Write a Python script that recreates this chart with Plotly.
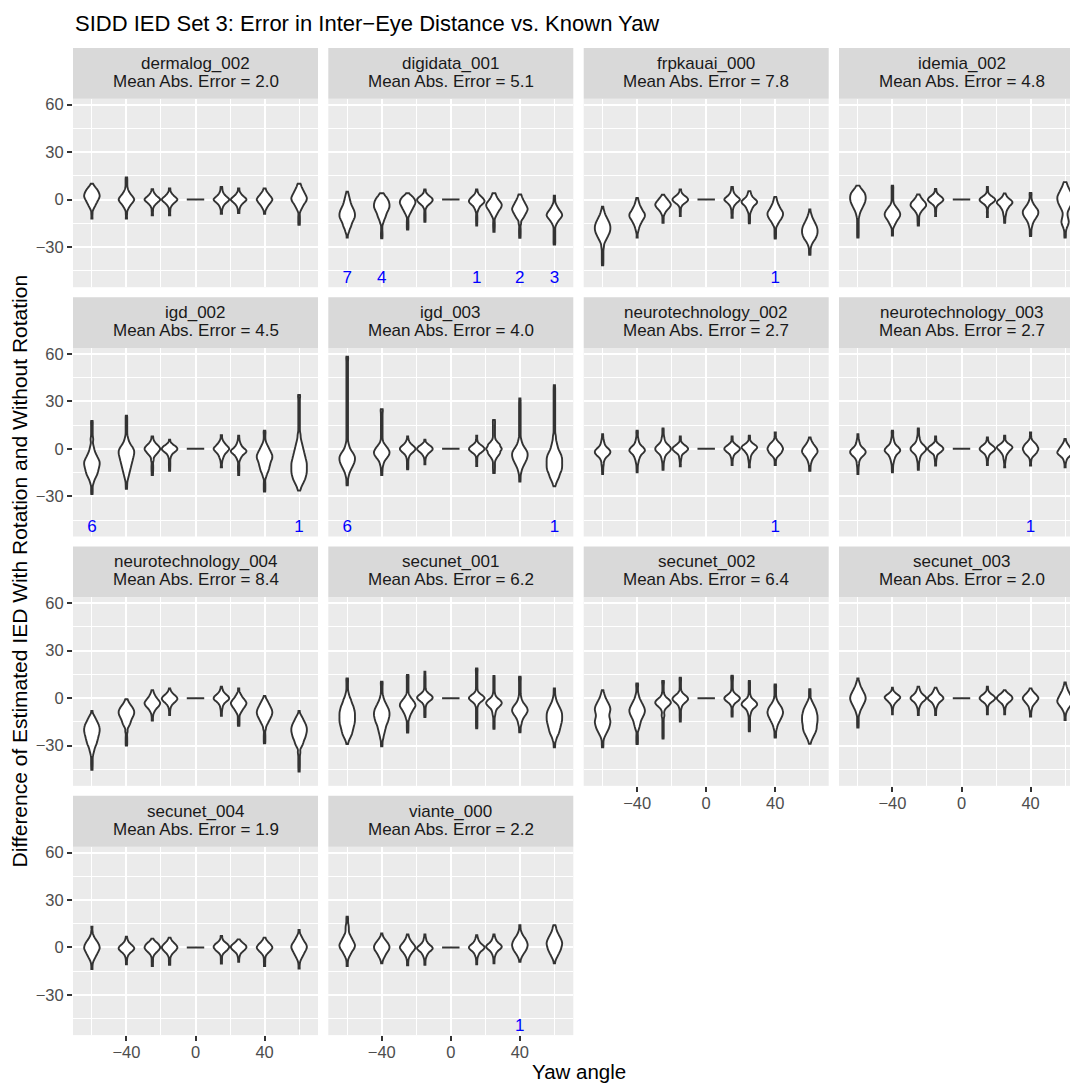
import numpy as np
import plotly.graph_objects as go

# ---------------- data ----------------
PANELS = ["dermalog_002", "digidata_001", "frpkauai_000", "idemia_002",
          "igd_002", "igd_003", "neurotechnology_002", "neurotechnology_003",
          "neurotechnology_004", "secunet_001", "secunet_002", "secunet_003",
          "secunet_004", "viante_000"]
MAE = [2.0, 5.1, 7.8, 4.8, 4.5, 4.0, 2.7, 2.7, 8.4, 6.2, 6.4, 2.0, 1.9, 2.2]
ANGLES = [-60, -40, -25, -15, 0, 15, 25, 40, 60]

# estimated distributions: (IED difference value, relative count)
dermalog_002 = {
    -60: [(-12,1),(-9,1),(-6,2),(-4,4),(-2,6),(0,8),(2,10),(4,9),(6,7),(8,4),(10,1)],
    -40: [(-12,1),(-9,1),(-6,2),(-4,4),(-2,7),(0,10),(2,7),(4,4),(6,2),(8,1),(10,1),(12,1),(14,1)],
    -25: [(-10,1),(-7,1),(-4,2),(-2,5),(0,10),(2,5),(4,2),(6.5,1)],
    -15: [(-10,1),(-7,1),(-4,2),(-2,5),(0,10),(2,5),(4,2),(7,1)],
    0: [(0,5)],
    15: [(-9,1),(-6,1),(-4,2),(-2,5),(0,10),(2,5),(4,2),(6,1),(8,1)],
    25: [(-8.5,1),(-6,1),(-4,2),(-2,5),(0,10),(2,5),(4,2),(7,1)],
    40: [(-9,1),(-6,2),(-4,4),(-2,7),(0,10),(2,7),(4,4),(6,1),(7,1)],
    60: [(-16,1),(-14,1),(-12,1),(-10,1),(-7,2),(-5,4),(-3,6),(-1,9),(1,10),(3,8),(5,6),(7,4),(9,2),(10,1)],
}
digidata_001 = {
    -60: [(-24,1),(-21,2),(-19,3),(-17,5),(-15,6),(-13,8),(-11,10),(-9,10),(-7,9),(-5,7),(-3,5),(-1,4),(1,3),(3,2),(5,1)],
    -40: [(-24.5,1),(-22.5,1),(-20.5,1),(-18,1),(-15,2),(-13,3),(-11,5),(-9,6),(-7,8),(-5,10),(-3,10),(-1,9),(1,7),(3,3),(4,1)],
    -25: [(-19,1),(-17,1),(-15,1),(-13,1),(-10,2),(-8,4),(-6,6),(-4,8),(-2,10),(0,9),(2,6),(4,1)],
    -15: [(-14,1),(-12,1),(-10,1),(-8,1),(-5,2),(-3,5),(-1.5,8),(0,10),(1.5,7),(3,3),(5,1),(6.3,1)],
    0: [(0,5)],
    15: [(-16.4,1),(-14,1),(-12,1),(-10,1),(-7,2),(-5,4),(-3,7),(-1.5,10),(0,9),(1.5,6),(3,3),(5,1),(6.3,1)],
    25: [(-20.4,1),(-18,1),(-16,1),(-14,1),(-11,2),(-9,4),(-7,6),(-5,9),(-3,10),(-1,7),(1,4),(3,2),(4,1)],
    40: [(-24.2,1),(-22,1),(-20,1),(-18,1),(-15,2),(-12,4),(-10,6),(-8,8),(-6,10),(-4,8),(-2,6),(0,4),(2,2),(3.2,1)],
    60: [(-28.4,1),(-26.5,1),(-24.5,1),(-22.5,1),(-20.5,1),(-18.5,1),(-16,2),(-14,4),(-12,7),(-10,10),(-8,8),(-6,5),(-4,3),(-2,1),(0,1),(2.5,1)],
}
frpkauai_000 = {
    -60: [(-41.6,1),(-39.5,1),(-37.5,1),(-35.5,1),(-33.5,1),(-31.5,1),(-29.5,2),(-27,3),(-25,5),(-23,7),(-21,9),(-19,10),(-17,10),(-15,9),(-13,7),(-11,5),(-9,3),(-7,2),(-4.6,1)],
    -40: [(-24,1),(-21,1),(-19,2),(-17,3),(-15,5),(-13,7),(-11,10),(-9,10),(-7,7),(-5,5),(-3,3),(-1,2),(1,1)],
    -25: [(-14.7,1),(-12,1),(-9,2),(-7,4),(-5,8),(-3,10),(-1,7),(1,4),(3,1)],
    -15: [(-10.5,1),(-7.5,1),(-5,1),(-3,3),(-1.5,7),(0,10),(1.5,7),(3,3),(5,1),(6.3,1)],
    0: [(0,5)],
    15: [(-11.5,1),(-8.5,1),(-6,1),(-4,2),(-2,5),(0,10),(2,5),(4,2),(6,1),(8,1)],
    25: [(-15,1),(-13,1),(-11,1),(-9,1),(-7,3),(-5,5),(-3,8),(-1.5,10),(0,8),(2,4),(4,2),(5.3,1)],
    40: [(-24.6,1),(-22.5,1),(-20.5,1),(-18.5,1),(-16,3),(-14,5),(-12,8),(-10,10),(-8,10),(-6,7),(-4,5),(-2,3),(0,2),(1.7,1)],
    60: [(-35,1),(-33,1),(-31,1),(-29,2),(-27,4),(-25,7),(-23,9),(-21,10),(-19,10),(-17,9),(-15,7),(-13,5),(-11,3),(-9,2),(-6.3,1)],
}
idemia_002 = {
    -60: [(-24,1),(-22,1),(-20,1),(-18,1),(-16,1),(-14,1),(-12,1),(-10,2),(-8,3),(-6,5),(-4,7),(-2,9),(0,10),(2,10),(4,9),(6,6),(8,2),(8.8,1)],
    -40: [(-22.7,1),(-20,1),(-17,2),(-15,4),(-13,6),(-11,9),(-9,10),(-7,8),(-5,5),(-3,2),(-1,1),(1,1),(3,1),(5,1),(7,1),(8.8,1)],
    -25: [(-16.4,1),(-14,1),(-12,1),(-10,1),(-8,3),(-6,6),(-4,10),(-2,9),(0,5),(2,2),(3.2,1)],
    -15: [(-10.5,1),(-7.5,1),(-5,1),(-3,3),(-1.5,7),(0,10),(1.5,7),(3,3),(5,1),(6.7,1)],
    0: [(0,5)],
    15: [(-11,1),(-8,1),(-5,1),(-3,3),(-1.5,7),(0,10),(1.5,6),(3,2),(5.5,1),(8,1)],
    25: [(-14.7,1),(-12.5,1),(-10.5,1),(-9,2),(-7,3),(-5,6),(-3,9),(-1.5,10),(0,7),(2,3),(3.8,1)],
    40: [(-23,1),(-21,1),(-19,1),(-17,2),(-15,3),(-13,5),(-11,8),(-9,10),(-7,10),(-5,7),(-3,4),(-1,2),(1,1),(3,1),(4.2,1)],
    60: [(-24,1),(-22,1),(-20,1),(-18,2),(-16,4),(-14,5),(-12,4),(-10,3),(-8,3),(-6,5),(-4,7),(-2,9),(0,10),(2,10),(4,8),(6,6),(8,4),(10,2),(11,1)],
}
igd_002 = {
    -60: [(-28.5,1),(-26.5,1),(-24.5,1),(-22,2),(-20,3),(-18,5),(-16,7),(-14,8),(-12,9),(-10,10),(-8,10),(-6,8),(-4,6),(-2,4),(0,3),(2,2),(4,1),(6,2),(8,1),(10,1),(12,1),(14,1),(16,1),(17.7,1)],
    -40: [(-25.3,1),(-23,1),(-21,1),(-19,2),(-17,3),(-15,4),(-13,5),(-11,6),(-9,7),(-7,8),(-5,9),(-3,10),(-1,10),(1,8),(3,5),(5,3),(7,2),(9,1),(11,1),(13,1),(15,1),(17,1),(19,1),(21,1)],
    -25: [(-16.5,1),(-14,1),(-12,1),(-10,1),(-7,2),(-4,4),(-2,7),(0,10),(2,7),(4,3),(6,1),(7.9,1)],
    -15: [(-13.8,1),(-11.5,1),(-9.5,1),(-7.5,1),(-5,2),(-3,3),(-1.5,7),(0,10),(1.5,7),(3,3),(5.8,1)],
    0: [(0,5)],
    15: [(-11.7,1),(-8.5,1),(-6,2),(-4,3),(-2,6),(0,10),(2,6),(4,3),(6,1),(8.7,1)],
    25: [(-16.5,1),(-14,1),(-12,1),(-10,1),(-7,2),(-5,4),(-3,7),(-1.5,10),(0,7),(2,4),(4,2),(6,1),(8.3,1)],
    40: [(-27,1),(-25,1),(-23,1),(-21,1),(-18,2),(-16,3),(-14,5),(-12,6),(-10,7),(-8,8),(-6,10),(-4,10),(-2,8),(0,6),(2,4),(4,2),(6,1),(8,1),(10,1),(11.4,1)],
    60: [(-26.4,1),(-25,2),(-23,4),(-21,6),(-19,8),(-17,9),(-15,10),(-13,10),(-11,10),(-9,10),(-7,9),(-5,8),(-3,7),(-1,6),(1,5),(3,4),(5,3),(7,2),(9,2),(11,1),(13,1),(15,1),(17,1),(19,1),(21,1),(23,1),(25,1),(27,1),(29,1),(31,1),(33,1),(34,1)],
}
igd_003 = {
    -60: [(-23,1),(-21,1),(-19,1),(-17,2),(-15,3),(-13,5),(-11,7),(-9,9),(-7,10),(-5,10),(-3,8),(-1,5),(1,3),(3,2),(5,1),(7,1),(9,1),(11,1),(13,1),(15,1),(17,1),(19,1),(21,1),(23,1),(25,1),(27,1),(29,1),(31,1),(33,1),(35,1),(37,1),(39,1),(41,1),(43,1),(45,1),(47,1),(49,1),(51,1),(53,1),(55,1),(57,1),(58.3,1)],
    -40: [(-16.5,1),(-14,1),(-12,1),(-10,2),(-8,3),(-6,6),(-4,9),(-2,10),(0,8),(2,5),(4,2),(6,1),(8,1),(10,1),(12,1),(14,1),(16,1),(18,1),(20,1),(22,1),(24,1),(25,1)],
    -25: [(-13,1),(-11,1),(-9,1),(-7,1),(-5,2),(-3,4),(-1.5,7),(0,10),(1.5,7),(3,4),(5,2),(7.9,1)],
    -15: [(-9.8,1),(-7,1),(-4.5,2),(-3,3),(-1.5,7),(0,10),(1.5,7),(3,3),(5.8,1)],
    0: [(0,5)],
    15: [(-10.8,1),(-8,1),(-5.5,1),(-3,3),(-1.5,7),(0,10),(1.5,7),(3,3),(5.5,1),(8.3,1)],
    25: [(-15.3,1),(-13,1),(-11,1),(-9,1),(-6.5,2),(-4.5,4),(-2.5,7),(0,10),(2.5,7),(4.5,3),(6.5,1),(8.5,1),(10.5,1),(12.5,1),(14.5,1),(16.5,1),(18.3,1)],
    40: [(-20.7,1),(-18.5,1),(-16.5,1),(-14.5,2),(-12.5,3),(-10.5,5),(-8.5,7),(-6.5,9),(-4.5,10),(-2.5,10),(-0.5,8),(1.5,5),(3.5,3),(5.5,2),(7.5,1),(9.5,1),(11.5,1),(13.5,1),(15.5,1),(17.5,1),(19.5,1),(21.5,1),(23.5,1),(25.5,1),(27.5,1),(29.5,1),(31.8,1)],
    60: [(-23.6,1),(-22,2),(-20,4),(-18,6),(-16,7),(-14,9),(-12,10),(-10,10),(-8,10),(-6,10),(-4,9),(-2,7),(0,5),(2,4),(4,3),(6,2),(8,2),(10,1),(12,1),(14,1),(16,1),(18,1),(20,1),(22,1),(24,1),(26,1),(28,1),(30,1),(32,1),(34,1),(36,1),(38,1),(40.2,1)],
}
neurotechnology_002 = {
    -60: [(-15.9,1),(-13.5,1),(-11.5,1),(-9.5,2),(-7,3),(-5,5),(-3.5,8),(-2,10),(-0.5,8),(1,5),(3,3),(5,2),(7,1),(9.3,1)],
    -40: [(-14.8,1),(-12.5,1),(-10.5,1),(-8.5,2),(-6.5,3),(-4.5,5),(-2.5,8),(-1,10),(0.5,8),(2,5),(4,3),(6,2),(8,1),(10,1),(11.4,1)],
    -25: [(-13.3,1),(-11,1),(-9,1),(-7,2),(-5,3),(-3,5),(-1.5,8),(0,10),(1.5,8),(3,5),(5,3),(7,2),(9,1),(11,1),(12.9,1)],
    -15: [(-11,1),(-8,1),(-5.5,2),(-3,3),(-1.5,7),(0,10),(1.5,7),(3,3),(5.5,1),(7.9,1)],
    0: [(0,5)],
    15: [(-10.2,1),(-7.5,1),(-5,2),(-3,3),(-1.5,7),(0,10),(1.5,7),(3,3),(5.5,1),(7.9,1)],
    25: [(-11.7,1),(-8.5,1),(-6,2),(-3.5,3),(-1.5,6),(0.5,10),(2,7),(3.5,3),(6,1),(8.3,1)],
    40: [(-10.2,1),(-7.5,1),(-5,2),(-3.5,4),(-2,7),(0,10),(2,7),(3.5,4),(5,2),(7.5,1),(10.4,1)],
    60: [(-13.8,1),(-11.5,1),(-9.5,1),(-8,2),(-6,4),(-4,7),(-2,10),(0,9),(2,6),(4,3),(5.5,1),(7.2,1)],
}
neurotechnology_003 = {
    -60: [(-15.9,1),(-13.5,1),(-11.5,1),(-9.5,2),(-7,3),(-5,5),(-3.5,8),(-2,10),(-0.5,8),(1,5),(3,3),(5,2),(7,1),(9.3,1)],
    -40: [(-14.8,1),(-12.5,1),(-10.5,1),(-8.5,2),(-6.5,3),(-4.5,5),(-2.5,8),(-1,10),(0.5,8),(2,5),(4,3),(6,2),(8,1),(10,1),(11.4,1)],
    -25: [(-13.3,1),(-11,1),(-9,1),(-7,2),(-5,3),(-3,5),(-1.5,8),(0,10),(1.5,8),(3,5),(5,3),(7,2),(9,1),(11,1),(12.9,1)],
    -15: [(-10.6,1),(-8,1),(-5.5,2),(-3,3),(-1.5,7),(0,10),(1.5,7),(3,3),(5.5,1),(7.9,1)],
    0: [(0,5)],
    15: [(-10.2,1),(-7.5,1),(-5,2),(-3,3),(-1.5,7),(0,10),(1.5,7),(3,3),(5,1),(7.2,1)],
    25: [(-11.7,1),(-8.5,1),(-6,2),(-3.5,3),(-1.5,6),(0.5,10),(2,7),(3.5,3),(6,1),(8.3,1)],
    40: [(-10.6,1),(-7.5,1),(-5,2),(-3.5,4),(-2,7),(0,10),(2,7),(3.5,4),(5,2),(7.5,1),(10.4,1)],
    60: [(-11.7,1),(-9,1),(-7,2),(-5,4),(-3.5,7),(-2,10),(0,8),(2,5),(4,2),(6.2,1)],
}
neurotechnology_004 = {
    -60: [(-45.3,1),(-43,1),(-41,1),(-39,1),(-37,1),(-35,2),(-33,3),(-31,4),(-29,6),(-27,7),(-25,8),(-23,9),(-21,10),(-19,10),(-17,9),(-15,7),(-13,5),(-11,3),(-8.1,1)],
    -40: [(-30,1),(-28,1),(-26,1),(-24,1),(-21,2),(-18,3),(-16,5),(-14,6),(-12,8),(-10,10),(-8,10),(-6,8),(-4,5),(-2,2),(-0.7,1)],
    -25: [(-14.2,1),(-11.5,1),(-9,2),(-7,4),(-5,8),(-3,10),(-1,7),(1,4),(3,2),(5.1,1)],
    -15: [(-10.6,1),(-8,1),(-5.5,2),(-3.5,4),(-2,7),(-0.5,10),(1,8),(2.5,4),(4,2),(6.2,1)],
    0: [(0,5)],
    15: [(-11.2,1),(-8.5,1),(-6,2),(-3.5,4),(-1.5,8),(0,10),(1.5,7),(3,4),(5,2),(7.2,1)],
    25: [(-17.5,1),(-15.5,1),(-13.5,1),(-11.5,1),(-9,3),(-7,5),(-5,8),(-3,10),(-1,7),(1,4),(3,2),(6.2,1)],
    40: [(-28.5,1),(-26.5,1),(-24.5,1),(-22.5,1),(-19.5,2),(-17,3),(-15,5),(-13,7),(-11,9),(-9,10),(-7,9),(-5,7),(-3,5),(-1,3),(1.4,1)],
    60: [(-46.3,1),(-44,1),(-42,1),(-40,1),(-38,1),(-36,1),(-34,2),(-31,3),(-29,5),(-27,6),(-25,8),(-23,9),(-21,10),(-19,10),(-17,9),(-15,7),(-13,5),(-11,3),(-8.1,1)],
}
secunet_001 = {
    -60: [(-29,1),(-27,2),(-25,4),(-23,6),(-21,7),(-19,8),(-17,9),(-15,10),(-13,10),(-11,10),(-9,10),(-7,9),(-5,8),(-3,6),(-1,5),(1,3),(3,2),(5,1),(7,1),(9,1),(11,1),(12.5,1)],
    -40: [(-30.5,1),(-28.5,1),(-26.5,1),(-25,2),(-23,3),(-21,4),(-19,5),(-17,6),(-15,8),(-13,9),(-11,10),(-9,10),(-7,9),(-5,7),(-3,5),(-1,3),(1,2),(3,1),(5,1),(7,1),(9,1),(10.4,1)],
    -25: [(-21.7,1),(-19.5,1),(-17.5,1),(-15.5,1),(-13,2),(-11,3),(-9,5),(-7,7),(-5,10),(-3,9),(-1,6),(1,3),(3,1),(5,1),(7,1),(9,1),(11,1),(13,1),(14.6,1)],
    -15: [(-12,1),(-10,1),(-8,1),(-6,1),(-4,2),(-2,5),(-0.5,9),(1,10),(2.5,5),(4,2),(6,1),(8,1),(10,1),(12,1),(14,1),(16.7,1)],
    0: [(0,5)],
    15: [(-19,1),(-17,1),(-15,1),(-13,1),(-11,1),(-9,1),(-7,1),(-4.5,2),(-2.5,4),(-1,8),(0.5,10),(2,5),(3.5,2),(5.5,1),(7.5,1),(9.5,1),(11.5,1),(13.5,1),(15.5,1),(17.5,1),(18.8,1)],
    25: [(-19.4,1),(-17.5,1),(-15.5,1),(-13.5,1),(-11.5,1),(-10,2),(-8,3),(-6,5),(-4.5,8),(-3,10),(-1.5,8),(0,4),(2,2),(4,1),(6,1),(8,1),(10,1),(12,1),(14,1)],
    40: [(-21.5,1),(-19.5,1),(-17.5,1),(-16,2),(-14,3),(-12,5),(-10,8),(-8,10),(-6,9),(-4,6),(-2,3),(0,2),(2,1),(4,1),(6,1),(8,1),(10,1),(12,1),(13.5,1)],
    60: [(-31,1),(-29,1),(-27,1),(-26,2),(-24,4),(-22,6),(-20,7),(-18,8),(-16,9),(-14,10),(-12,10),(-10,10),(-8,9),(-6,7),(-4,5),(-2,3),(0,2),(2,1),(4,1),(6.2,1)],
}
secunet_002 = {
    -60: [(-31,1),(-29,1),(-27,1),(-25,2),(-23,4),(-21,6),(-19,8),(-17,9),(-15,10),(-13,9),(-11,8),(-9,9),(-7,10),(-5,9),(-3,7),(-1,5),(1,3),(3,2),(5.1,1)],
    -40: [(-29,1),(-27,1),(-25,1),(-23,1),(-20,2),(-18,3),(-16,4),(-14,5),(-12,7),(-10,9),(-8,10),(-6,9),(-4,7),(-2,5),(0,3),(2,2),(4,1),(6,1),(8,1),(9.3,1)],
    -25: [(-25.5,1),(-23.5,1),(-21.5,1),(-19.5,1),(-17.5,1),(-15.5,1),(-13.5,1),(-11.5,1),(-10.6,2),(-8,2),(-6,4),(-4.5,7),(-3,10),(-1.5,8),(0,5),(2,2),(4,1),(6,1),(8,1),(10,1),(10.8,1)],
    -15: [(-14.8,1),(-12.5,1),(-10.5,1),(-8.5,1),(-6,2),(-4,3),(-2.5,6),(-1,10),(0.5,9),(2,5),(3.5,2),(5.5,1),(7.5,1),(9.5,1),(11.5,1),(12.9,1)],
    0: [(0,5)],
    15: [(-11.7,1),(-9.5,1),(-7.5,1),(-4.5,2),(-2.5,5),(-1,9),(0.5,10),(2,5),(3.5,2),(5.5,1),(7.5,1),(9.5,1),(11.5,1),(13,1),(14.2,1)],
    25: [(-21,1),(-19,1),(-17,1),(-15,1),(-13,1),(-11,1),(-9.5,2),(-7.5,4),(-5.5,8),(-4,10),(-2.5,8),(-1,5),(1,2),(3,1),(5,1),(7,1),(9,1),(10.8,1)],
    40: [(-24.9,1),(-23,1),(-21,1),(-19,2),(-17,3),(-15,5),(-13,7),(-11,9),(-9,10),(-7,9),(-5,7),(-3,4),(-1,2),(1,1),(3,1),(5,1),(7,1),(8.7,1)],
    60: [(-28.9,1),(-27,2),(-25,4),(-23,6),(-21,8),(-19,9),(-17,9),(-15,10),(-13,10),(-11,10),(-9,9),(-7,8),(-5,6),(-3,4),(-1,2),(1.5,1),(3.5,1),(5.6,1)],
}
secunet_003 = {
    -60: [(-18.6,1),(-16.5,1),(-14.5,1),(-12.5,1),(-10,2),(-8,3),(-6,5),(-4,7),(-2,9),(0,10),(2,9),(4,7),(6,5),(8,3),(10,2),(12.5,1)],
    -40: [(-10.2,1),(-7.5,1),(-5,2),(-3,4),(-1.5,7),(0,9),(1,10),(2.5,6),(4,2),(6.6,1)],
    -25: [(-10.6,1),(-8,1),(-5.5,2),(-3.5,4),(-1.5,8),(0,10),(1.5,8),(3.5,4),(5.5,2),(7.2,1)],
    -15: [(-10.6,1),(-8,1),(-5.5,2),(-3.5,4),(-1.5,8),(0,10),(1.5,8),(3.5,4),(5,2),(6.6,1)],
    0: [(0,5)],
    15: [(-10.2,1),(-7.5,1),(-5,1),(-3,3),(-1.5,7),(0,10),(1.5,7),(3,3),(5,1),(7.2,1)],
    25: [(-10.2,1),(-7.5,1),(-5,2),(-3,4),(-1.5,8),(0,10),(1.5,8),(3,4),(5.1,1)],
    40: [(-11.7,1),(-9,1),(-6.5,2),(-4,4),(-2,7),(0,10),(2,7),(4,3),(6.2,1)],
    60: [(-13.8,1),(-11,1),(-8.5,2),(-6.5,4),(-4.5,7),(-2.5,10),(-0.5,9),(1.5,7),(3.5,5),(5.5,3),(7.5,2),(10,1)],
}
secunet_004 = {
    -60: [(-13.7,1),(-11,1),(-8.5,2),(-6.5,4),(-4.5,6),(-2.5,8),(-0.5,10),(1.5,9),(3.5,7),(5.5,4),(7.5,2),(10,1),(13.1,1)],
    -40: [(-10.6,1),(-8,1),(-5.5,2),(-3.5,4),(-2,7),(-0.5,10),(1,7),(2.5,4),(4.5,2),(6.8,1)],
    -25: [(-11.7,1),(-9,1),(-6.5,1),(-4,3),(-2,7),(0,10),(2,7),(3.5,3),(5.6,1)],
    -15: [(-11,1),(-8.5,1),(-6,1),(-4,3),(-2,7),(0,10),(2,7),(4,3),(6.2,1)],
    0: [(0,5)],
    15: [(-10.2,1),(-7.5,1),(-5,1),(-3,3),(-1.5,7),(0.3,10),(2,7),(3.5,3),(5.5,1),(7.2,1)],
    25: [(-9.1,1),(-6.5,1),(-4.5,2),(-2.5,5),(-1,8),(0.5,10),(2,7),(3.5,3),(5.1,1)],
    40: [(-11.7,1),(-9,1),(-6.5,1),(-4,3),(-2,7),(0,10),(2,7),(4,3),(6.2,1)],
    60: [(-13.3,1),(-10.5,1),(-8,2),(-6,4),(-4,6),(-2,8),(0,10),(2,9),(4,6),(6,4),(8,2),(11,1)],
}
viante_000 = {
    -60: [(-11.7,1),(-9,1),(-6.5,2),(-4.5,4),(-2.5,6),(-0.5,9),(1.5,10),(3.5,8),(5.5,6),(7.5,4),(9.5,2),(11.5,2),(13.5,2),(15.5,1),(17.5,1),(19.4,1)],
    -40: [(-10,1),(-7.5,2),(-5.5,4),(-3.5,6),(-1.5,9),(0.5,10),(2.5,8),(4.5,5),(6.5,2),(8.9,1)],
    -25: [(-11.2,1),(-8.5,1),(-6,2),(-4,4),(-2,7),(0,10),(2,7),(4,4),(6,2),(8.3,1)],
    -15: [(-11,1),(-8.5,1),(-6,2),(-4,4),(-2,7),(-0.5,10),(1,7),(3,4),(5.5,2),(8.3,1)],
    0: [(0,5)],
    15: [(-10.6,1),(-8,1),(-5.5,2),(-3.5,4),(-1.5,8),(0,10),(1.5,8),(3.5,4),(5.5,2),(7.7,1)],
    25: [(-10,1),(-7.5,1),(-5,2),(-3,4),(-1,8),(0.5,10),(2,8),(4,4),(6,2),(8.3,1)],
    40: [(-9.1,1),(-6.5,2),(-4.5,4),(-2.5,7),(-0.5,9),(1.5,10),(3.5,9),(5.5,7),(7.5,4),(9.5,2),(11.5,1),(14,1)],
    60: [(-10,1),(-7.5,2),(-5.5,4),(-3.5,6),(-1.5,8),(0.5,9),(2.5,10),(4.5,9),(6.5,7),(8.5,5),(10.5,3),(12.5,2),(14,1)],
}
VIOLINS = [dermalog_002, digidata_001, frpkauai_000, idemia_002, igd_002, igd_003,
           neurotechnology_002, neurotechnology_003, neurotechnology_004,
           secunet_001, secunet_002, secunet_003, secunet_004, viante_000]

# counts of observations beyond the plotted range (blue labels)
OUT_COUNTS = {
    "digidata_001": {-60: 7, -40: 4, 15: 1, 40: 2, 60: 3},
    "frpkauai_000": {40: 1},
    "igd_002": {-60: 6, 60: 1},
    "igd_003": {-60: 6, 60: 1},
    "neurotechnology_002": {40: 1},
    "neurotechnology_003": {40: 1},
    "viante_000": {40: 1},
}
LABEL_Y = -50

TITLE = "SIDD IED Set 3: Error in Inter\u2212Eye Distance vs. Known Yaw"
X_TITLE = "Yaw angle"
Y_TITLE = "Difference of Estimated IED With Rotation and Without Rotation"

# ---------------- layout geometry (pixels) ----------------
W, H = 1070, 1084
FONT = "Liberation Sans, Arial, Helvetica, sans-serif"
COL_LEFT = [73, 328.3, 583.7, 839]
PANEL_W = 245
STRIP_TOP = [45, 295, 545, 795]
STRIP_H = 51
PANEL_H = 189
XR = [-70.95, 70.95]
YR = [-55.4, 63.7]
PPU = PANEL_W / (XR[1] - XR[0])
BW = 1.2
NCOL = 4
N = len(PANELS)

fig = go.Figure()
layout = {}
shapes = []
annotations = []

for i, (name, vd) in enumerate(zip(PANELS, VIOLINS)):
    r, c = divmod(i, NCOL)
    k = i + 1
    xa, ya = f"x{k}", f"y{k}"
    left = COL_LEFT[c]
    right = min(left + PANEL_W, W)
    ptop = STRIP_TOP[r] + STRIP_H
    pbot = ptop + PANEL_H
    xr = [XR[0], XR[0] + (right - left) / PPU]
    show_x = (i + NCOL) >= N
    show_y = c == 0

    layout[f"xaxis{k}"] = dict(
        domain=[left / W, right / W], range=xr, anchor=ya, type="linear",
        tick0=0, dtick=40, showgrid=True, gridcolor="white", gridwidth=2,
        minor=dict(tick0=0, dtick=20, showgrid=True, gridcolor="white", gridwidth=1),
        zeroline=False, showline=False,
        ticks="outside" if show_x else "", ticklen=5, tickwidth=2, tickcolor="#333333",
        ticklabelstandoff=-3,
        showticklabels=show_x, tickfont=dict(family=FONT, size=16.5, color="#4D4D4D"),
        fixedrange=True)
    layout[f"yaxis{k}"] = dict(
        domain=[1 - pbot / H, 1 - ptop / H], range=YR, anchor=xa,
        tick0=0, dtick=30, showgrid=True, gridcolor="white", gridwidth=2,
        minor=dict(tick0=0, dtick=15, showgrid=True, gridcolor="white", gridwidth=1),
        zeroline=False, showline=False,
        ticks="outside" if show_y else "", ticklen=5, tickwidth=2, tickcolor="#333333",
        showticklabels=show_y, tickfont=dict(family=FONT, size=16.5, color="#4D4D4D"),
        fixedrange=True)

    # strip
    shapes.append(dict(type="rect", xref="paper", yref="paper", layer="below",
                       x0=left / W, x1=(left + PANEL_W) / W,
                       y0=1 - (STRIP_TOP[r] + STRIP_H) / H, y1=1 - STRIP_TOP[r] / H,
                       fillcolor="#D9D9D9", line=dict(width=0)))
    cx = (left + PANEL_W / 2) / W
    annotations.append(dict(xref="paper", yref="paper", x=cx, y=1 - (STRIP_TOP[r] + 15.5) / H,
                            text=name, showarrow=False, xanchor="center", yanchor="middle",
                            font=dict(family=FONT, size=17, color="#1A1A1A")))
    annotations.append(dict(xref="paper", yref="paper", x=cx, y=1 - (STRIP_TOP[r] + 33.5) / H,
                            text=f"Mean Abs. Error = {MAE[i]:.1f}", showarrow=False,
                            xanchor="center", yanchor="middle",
                            font=dict(family=FONT, size=17, color="#1A1A1A")))

    # violins
    for ang in ANGLES:
        pairs = vd[ang]
        vals = np.repeat(np.array([p[0] for p in pairs], dtype=float),
                         [p[1] for p in pairs])
        flat = vals.min() == vals.max()
        kw = dict(spanmode="manual", span=[vals.min() - 0.02, vals.max() + 0.02]) if flat \
            else dict(spanmode="hard")
        fig.add_trace(go.Violin(
            x=[ang] * len(vals), y=vals, xaxis=xa, yaxis=ya,
            scalegroup=f"{name}_{ang}", scalemode="width", bandwidth=BW,
            points=False, box_visible=False, meanline_visible=False,
            fillcolor="white", line=dict(color="#333333", width=1.9),
            hoverinfo="skip", showlegend=False, **kw))

    # counts beyond range
    if name in OUT_COUNTS:
        oc = OUT_COUNTS[name]
        fig.add_trace(go.Scatter(
            x=list(oc.keys()), y=[LABEL_Y] * len(oc), text=[str(v) for v in oc.values()],
            mode="text", xaxis=xa, yaxis=ya, hoverinfo="skip", showlegend=False,
            textfont=dict(family=FONT, size=17, color="#0000FF")))

annotations.append(dict(xref="paper", yref="paper", x=73 / W, y=1 - 20.5 / H, text=TITLE,
                        showarrow=False, xanchor="left", yanchor="middle",
                        font=dict(family=FONT, size=22, color="black")))
annotations.append(dict(xref="paper", yref="paper", x=578.5 / W, y=1 - 1071 / H, text=X_TITLE,
                        showarrow=False, xanchor="center", yanchor="middle",
                        font=dict(family=FONT, size=20.5, color="black")))
annotations.append(dict(xref="paper", yref="paper", x=19 / W, y=1 - 570 / H, text=Y_TITLE,
                        showarrow=False, xanchor="center", yanchor="middle", textangle=-90,
                        font=dict(family=FONT, size=21, color="black")))

fig.update_layout(
    width=W, height=H, margin=dict(l=0, r=0, t=0, b=0),
    paper_bgcolor="white", plot_bgcolor="#EBEBEB",
    violinmode="overlay", violingap=0.1, violingroupgap=0,
    shapes=shapes, annotations=annotations, showlegend=False,
    font=dict(family=FONT), **layout)

fig.write_html("out.html")
